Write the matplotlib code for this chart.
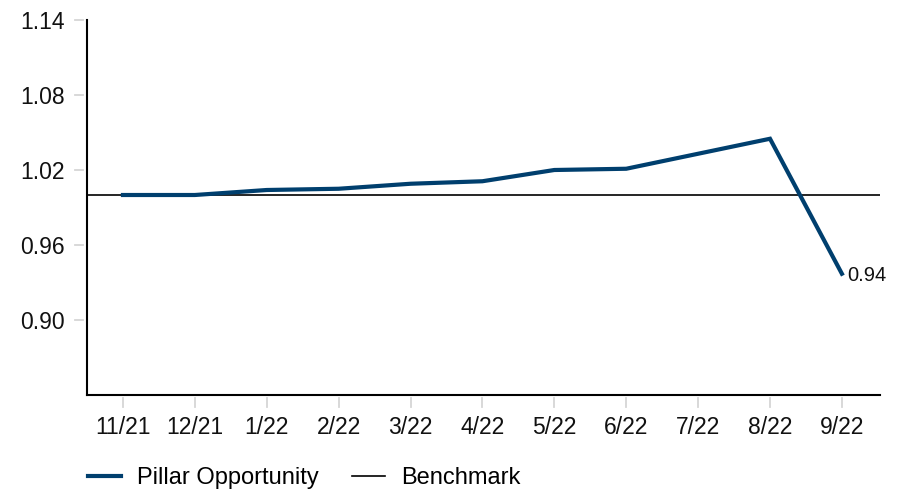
import matplotlib
matplotlib.use("Agg")
import matplotlib.pyplot as plt
from matplotlib.lines import Line2D

plt.rcParams['font.family'] = ['Liberation Sans', 'DejaVu Sans']

categories = ["11/21", "12/21", "1/22", "2/22", "3/22", "4/22", "5/22", "6/22", "7/22", "8/22", "9/22"]
pillar = [1.000, 1.000, 1.004, 1.005, 1.009, 1.011, 1.020, 1.021, 1.033, 1.045, 0.937]
benchmark_value = 1.0
yticks = [0.90, 0.96, 1.02, 1.08, 1.14]
end_label = "0.94"

line_color = "#003f6e"
tick_color = "#d6d6d6"

W, H = 911, 495
fig = plt.figure(figsize=(W / 100, H / 100), dpi=100)
ax_left, ax_bottom, ax_w, ax_h = 87 / W, 1 - 395 / H, 793 / W, 375 / H
ax = fig.add_axes([ax_left, ax_bottom, ax_w, ax_h])

x = list(range(len(categories)))
ax.plot(x, pillar, color=line_color, lw=3.0, solid_joinstyle='miter', zorder=3)
ax.axhline(benchmark_value, color="black", lw=1.2, zorder=2)

ax.set_xlim(-0.5, 10.53)
ax.set_ylim(0.84, 1.14)
ax.set_xticks(x)
ax.set_xticklabels(categories)
ax.set_yticks(yticks)
ax.set_yticklabels([f"{v:.2f}" for v in yticks])

for s in ["top", "right"]:
    ax.spines[s].set_visible(False)
for s in ["left", "bottom"]:
    ax.spines[s].set_linewidth(1.5)
    ax.spines[s].set_color("black")

ax.tick_params(axis='both', length=0, labelcolor="#111111", labelsize=16.5)
ax.tick_params(axis='x', pad=15)
ax.tick_params(axis='y', pad=16)

# detached light-gray tick marks (offset from the spines)
px_x = 1 / (ax_w * W)
px_y = 1 / (ax_h * H)
for v in yticks:
    ax.plot([-12 * px_x, -4 * px_x], [v, v], color=tick_color, lw=1.3,
            transform=ax.get_yaxis_transform(), clip_on=False)
for xi in x:
    ax.plot([xi, xi], [-3 * px_y, -12 * px_y], color=tick_color, lw=1.3,
            transform=ax.get_xaxis_transform(), clip_on=False)

ax.annotate(end_label, xy=(x[-1], pillar[-1]), xytext=(4, -1.5), textcoords='offset points',
            ha='left', va='center', fontsize=14.5, color="#111111")

handles = [Line2D([0], [0], color=line_color, lw=3.0),
           Line2D([0], [0], color="black", lw=1.2)]
fig.legend(handles, ["Pillar Opportunity", "Benchmark"], loc='center left',
           bbox_to_anchor=(88 / W, 1 - 478 / H), ncol=2, frameon=False, fontsize=17,
           handlelength=1.4, handletextpad=0.68, columnspacing=1.4,
           borderpad=0, borderaxespad=0)

fig.savefig("out.png", dpi=100)
